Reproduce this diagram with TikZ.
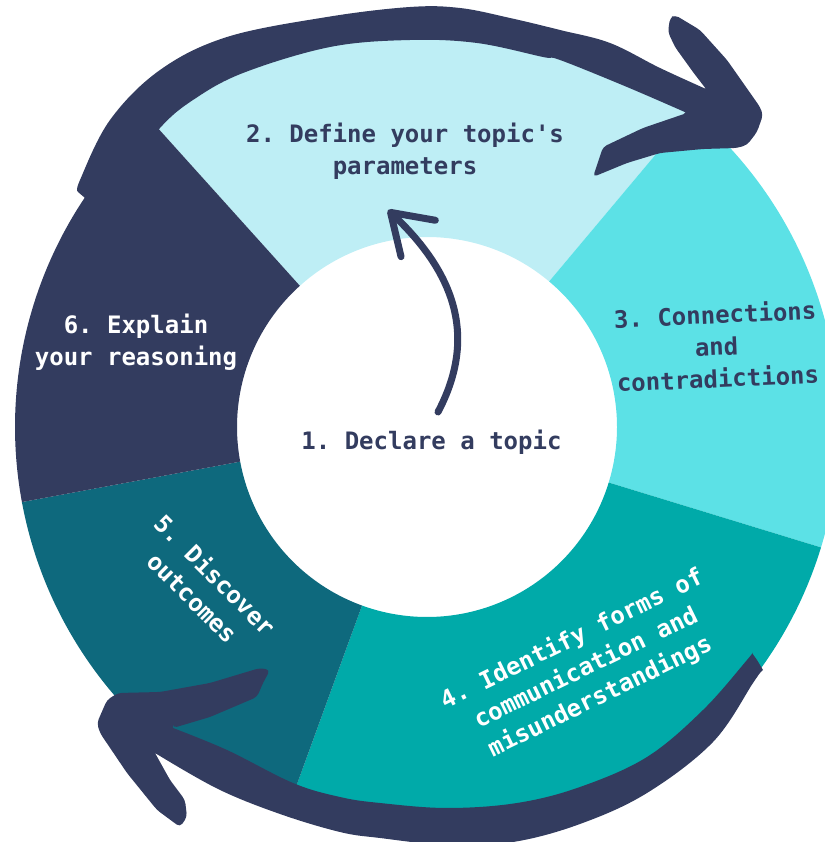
\documentclass[tikz,border=0pt]{standalone}
\usepackage{fontspec}
\setmonofont{DejaVu Sans Mono}
\usetikzlibrary{arrows.meta}
\definecolor{ink}{HTML}{333C5F}
\definecolor{pale}{HTML}{BEEEF5}
\definecolor{aqua}{HTML}{5CE1E6}
\definecolor{jade}{HTML}{00AAA9}
\definecolor{petrol}{HTML}{0E697D}
\begin{document}
\begin{tikzpicture}[x=0.5pt,y=0.5pt,
   txt/.style={font=\ttfamily\bfseries\fontsize{12}{16}\selectfont,align=center,inner sep=0pt},
   brush/.style={fill=ink,tension=0.6}]
   \useasboundingbox (0,0) rectangle (825,842);
   \clip (0,0) rectangle (825,842);
   \begin{scope}[shift={(427,415)}]
   \fill[pale] (50:190) arc[start angle=50,end angle=132,radius=190] -- (132:412) arc[start angle=132,end angle=50,radius=412] -- cycle;
   \fill[aqua] (-17:190) arc[start angle=-17,end angle=50,radius=190] -- (50:412) arc[start angle=50,end angle=-17,radius=412] -- cycle;
   \fill[jade] (-110:190) arc[start angle=-110,end angle=-17,radius=190] -- (-17:412) arc[start angle=-17,end angle=-110,radius=412] -- cycle;
   \fill[petrol] (-169.5:190) arc[start angle=-169.5,end angle=-110,radius=190] -- (-110:412) arc[start angle=-110,end angle=-169.5,radius=412] -- cycle;
   \fill[ink] (132:190) arc[start angle=132,end angle=190.5,radius=190] -- (190.5:412) arc[start angle=190.5,end angle=132,radius=412] -- cycle;
   \end{scope}
   \fill[brush] plot[smooth] coordinates {(78,650) (80,662) (110,722) (160,772) (227,805) (327,825) (410,835) (460,834) (510,824) (560,812) (610,799) (660,774) (706,753)}
      [rounded corners=2pt] -- (693,770) -- (675,795) -- (668,810) -- (670,824) -- (675,827) -- (700,812) -- (727,782) -- (760,735) -- (763,727) -- (757,710) -- (747,697) -- (737,694) -- (703,693) -- (660,689) -- (627,679) -- (593,665) -- (603,695) -- (643,714) -- (687,729)
      [sharp corners] -- plot[smooth] coordinates {(687,729) (627,755) (560,782) (543,785) (477,799) (410,802) (330,795) (243,769) (193,742) (160,714) (125,667) (95,642)} -- (85,644) -- cycle;
   \fill[brush] plot[smooth] coordinates {(763,172) (760,169) (753,159) (713,100) (647,49) (580,18) (513,0) (447,-3) (380,4) (340,10) (280,28) (218,53) (155,89)}
      [rounded corners=2pt] -- (170,62) -- (185,42) -- (187,25) -- (180,15) -- (157,32) -- (127,69) -- (100,109) -- (97,119) -- (107,142) -- (118,149) -- (160,150) -- (210,159) -- (260,174) -- (270,172) -- (263,159) -- (257,145) -- (210,125) -- (173,114)
      [sharp corners] -- plot[smooth] coordinates {(173,114) (227,92) (293,59) (340,45) (380,39) (447,34) (517,39) (580,55) (647,85) (703,132) (747,182) (752,189)} -- (757,182) -- cycle;
   \node[txt,ink,anchor=base] (declare) at (431.5,392) {1. Declare a topic};
   \node[txt,ink] (define) at (405,691) {2. Define your topic's\\parameters};
   \node[txt,ink,rotate=2.5] (connect) at (716.5,496) {3. Connections\\and\\contradictions};
   \node[txt,white,rotate=26] (identify) at (586,174) {4. Identify forms of\\communication and\\misunderstandings};
   \node[txt,white,rotate=-45] (discover) at (204,256) {5. Discover\\outcomes};
   \node[txt,white] (explain) at (136,500) {6. Explain\\your reasoning};
   \coordinate (start) at (438,430);
   \coordinate (tip) at (388,632);
   \draw[ink,line width=3.5pt,line cap=round,-{Straight Barb[length=19pt,width=25pt,round]}] (start) .. controls (476,502) and (458,566) .. (tip);
\end{tikzpicture}
\end{document}
